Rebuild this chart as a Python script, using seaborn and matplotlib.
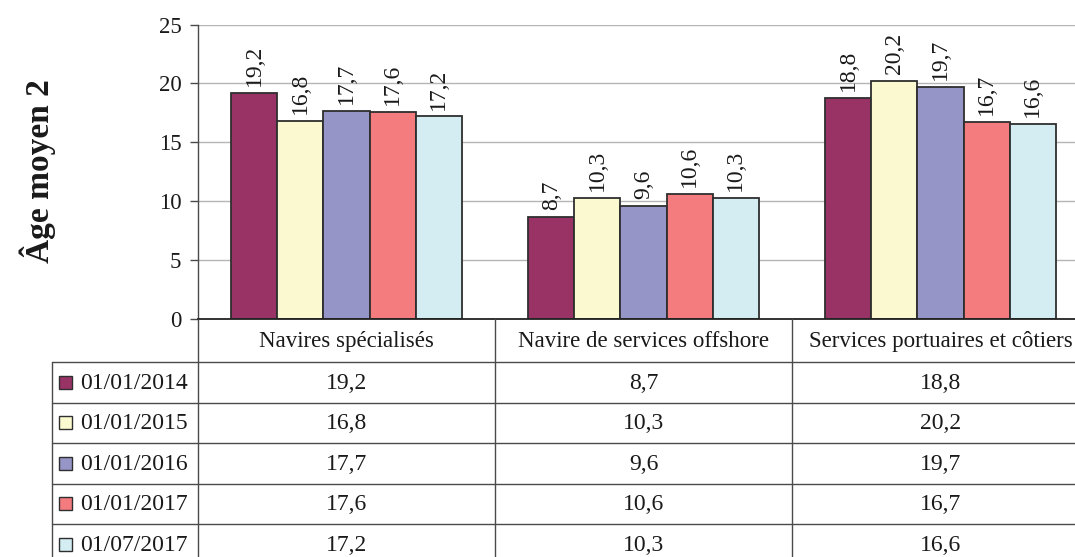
import matplotlib
matplotlib.use("Agg")
import matplotlib.pyplot as plt
from matplotlib.patches import Rectangle
from matplotlib.lines import Line2D
import seaborn as sns
import pandas as pd

categories = ["Navires spécialisés", "Navire de services offshore", "Services portuaires et côtiers"]
series_names = ["01/01/2014", "01/01/2015", "01/01/2016", "01/01/2017", "01/07/2017"]
s2014a = [19.2, 8.7, 18.8]
s2015a = [16.8, 10.3, 20.2]
s2016a = [17.7, 9.6, 19.7]
s2017a = [17.6, 10.6, 16.7]
s2017b = [17.2, 10.3, 16.6]
series_values = [s2014a, s2015a, s2016a, s2017a, s2017b]
colors = ["#993366", "#FBF9D0", "#9595C8", "#F47C7E", "#D3EDF3"]
y_ticks = [0, 5, 10, 15, 20, 25]
y_label = "Âge moyen 2"

rows = []
for name, vals in zip(series_names, series_values):
    for c, v in zip(categories, vals):
        rows.append({"cat": c, "val": v, "date": name})
df = pd.DataFrame(rows)

sns.set_style("white")
plt.rcParams["font.family"] = ["Liberation Serif", "DejaVu Serif"]
TXT = "#1a1a1a"
LINE = "#4a4a4a"

W, H = 1075, 557
fig = plt.figure(figsize=(W / 100, H / 100), dpi=100)
left_px, right_px, top_px, bot_px = 198, 1089, 24.6, 319
ax = fig.add_axes([left_px / W, 1 - bot_px / H, (right_px - left_px) / W, (bot_px - top_px) / H])

sns.barplot(data=df, x="cat", y="val", hue="date", order=categories, hue_order=series_names,
            palette=colors, width=0.775, edgecolor="#2e2e2e", linewidth=1.3,
            legend=False, ax=ax, errorbar=None, saturation=1)

ax.set_xlim(-0.5, len(categories) - 0.5)
ax.set_ylim(0, 25)
ax.set_yticks(y_ticks)
ax.set_yticklabels([str(t) for t in y_ticks], fontsize=16.5, color=TXT)
ax.set_xticks([])
ax.set_xlabel("")
ax.set_ylabel("")
ax.yaxis.grid(True, color="#b5b5b5", linewidth=1)
ax.set_axisbelow(True)
ax.tick_params(axis="y", direction="out", length=6, width=1, color=LINE, pad=6, left=True)
for s in ["top", "right"]:
    ax.spines[s].set_visible(False)
ax.spines["left"].set_color(LINE)
ax.spines["left"].set_linewidth(1)
ax.spines["bottom"].set_color("#222222")
ax.spines["bottom"].set_linewidth(1.3)

for cont in ax.containers:
    labels = [f"{b.get_height():.1f}".replace(".", ",") for b in cont]
    ax.bar_label(cont, labels=labels, rotation=90, padding=5, fontsize=17, color=TXT)

fig.text(38 / W, 1 - 171 / H, y_label, rotation=90, fontsize=24, fontweight="bold",
         ha="center", va="center", color=TXT)

# ---- data table below the axes (pixel layout) ----
fig.canvas.draw()
def xpix(xd):
    return ax.transData.transform((xd, 0))[0]

def fy(ypx):
    return 1 - ypx / H

def fx(xpx):
    return xpx / W

header_top, header_bot = 319, 362
row_h = 40.5
n_rows = len(series_names)
table_bot = header_bot + row_h * n_rows
leg_left = 52

lkw = dict(color=LINE, linewidth=1, transform=fig.transFigure)
for i in range(len(categories) + 1):
    xb = xpix(i - 0.5)
    fig.add_artist(Line2D([fx(xb), fx(xb)], [fy(header_top), fy(table_bot)], **lkw))
fig.add_artist(Line2D([fx(leg_left), fx(leg_left)], [fy(header_bot), fy(table_bot)], **lkw))
for r in range(n_rows):
    yb = header_bot + r * row_h
    fig.add_artist(Line2D([fx(leg_left), 1.0], [fy(yb), fy(yb)], **lkw))

for i, c in enumerate(categories):
    fig.text(fx(xpix(i)), fy((header_top + header_bot) / 2 + 1), c, ha="center", va="center",
             fontsize=16.5, color=TXT)

sq = 13
for r, (name, vals, col) in enumerate(zip(series_names, series_values, colors)):
    yc = header_bot + r * row_h + row_h / 2
    fig.add_artist(Rectangle((fx(59), fy(yc + sq / 2)), sq / W, sq / H,
                             facecolor=col, edgecolor="#2e2e2e", linewidth=1,
                             transform=fig.transFigure))
    fig.text(fx(80), fy(yc + 1), name, ha="left", va="center", fontsize=17, color=TXT)
    for i, v in enumerate(vals):
        fig.text(fx(xpix(i)), fy(yc + 1), f"{v:.1f}".replace(".", ","), ha="center",
                 va="center", fontsize=17, color=TXT)

fig.savefig("out.png", dpi=100)
